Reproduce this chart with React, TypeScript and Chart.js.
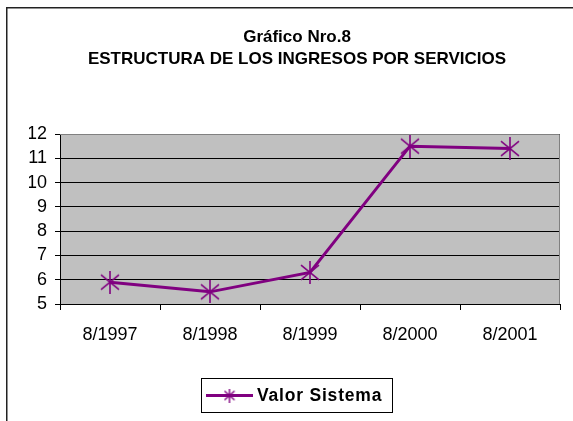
import React, { useEffect, useRef } from "react";
import { Chart, registerables } from "chart.js";

Chart.register(...registerables);

const categories = ["8/1997", "8/1998", "8/1999", "8/2000", "8/2001"];
const valorSistema = [5.9, 5.5, 6.3, 11.5, 11.4];
const titleLines = ["Gráfico Nro.8", "ESTRUCTURA DE LOS INGRESOS POR SERVICIOS"];
const seriesLabel = "Valor Sistema";
const yMin = 5;
const yMax = 12;

const PURPLE = "#800080";
const FONT = "'Liberation Sans', Arial, sans-serif";

function makeStar(w: number, h: number, lw: number): HTMLCanvasElement {
  const c = document.createElement("canvas");
  c.width = w;
  c.height = h;
  const ctx = c.getContext("2d")!;
  ctx.strokeStyle = PURPLE;
  ctx.lineWidth = lw;
  ctx.beginPath();
  ctx.moveTo(w / 2, 0);
  ctx.lineTo(w / 2, h);
  const dy = h * 0.18;
  ctx.moveTo(1, dy);
  ctx.lineTo(w - 1, h - dy);
  ctx.moveTo(w - 1, dy);
  ctx.lineTo(1, h - dy);
  ctx.stroke();
  return c;
}

export default function App() {
  const ref = useRef<HTMLCanvasElement>(null);
  useEffect(() => {
    document.body.style.margin = "0";
    const star = makeStar(20, 23, 1.6);
    const smallStar = makeStar(12, 14, 1.4);

    const framePlugin = {
      id: "frame",
      beforeDraw(chart: any) {
        const { ctx, chartArea: a } = chart;
        ctx.save();
        ctx.fillStyle = "#fff";
        ctx.fillRect(0, 0, chart.width, chart.height);
        ctx.strokeStyle = "#222";
        ctx.lineWidth = 1.5;
        ctx.strokeRect(6.75, 7.75, chart.width + 20, chart.height + 20);
        ctx.fillStyle = "#C0C0C0";
        ctx.fillRect(a.left, a.top, a.right - a.left, a.bottom - a.top);
        ctx.restore();
      },
      afterDatasetsDraw(chart: any) {
        const { ctx, chartArea: a } = chart;
        ctx.save();
        ctx.strokeStyle = "#808080";
        ctx.lineWidth = 1;
        ctx.beginPath();
        ctx.moveTo(a.left, a.top + 0.5);
        ctx.lineTo(a.right - 0.5, a.top + 0.5);
        ctx.lineTo(a.right - 0.5, a.bottom);
        ctx.stroke();
        ctx.restore();
      },
      afterDraw(chart: any) {
        const { ctx } = chart;
        const ds = chart.data.datasets[0];
        ctx.save();
        const bx = 201.5, by = 378.5, bw = 191, bh = 34;
        ctx.fillStyle = "#fff";
        ctx.fillRect(bx, by, bw, bh);
        ctx.strokeStyle = "#000";
        ctx.lineWidth = 1;
        ctx.strokeRect(bx, by, bw, bh);
        const cy = by + bh / 2;
        ctx.strokeStyle = ds.borderColor;
        ctx.lineWidth = 3;
        ctx.beginPath();
        ctx.moveTo(206, cy);
        ctx.lineTo(253, cy);
        ctx.stroke();
        ctx.drawImage(smallStar, 229.5 - smallStar.width / 2, cy - smallStar.height / 2);
        ctx.fillStyle = "#000";
        ctx.font = `bold 17.5px ${FONT}`;
        (ctx as any).letterSpacing = "0.8px";
        ctx.textBaseline = "middle";
        ctx.textAlign = "left";
        ctx.fillText(ds.label, 257, cy + 1);
        ctx.restore();
      },
    };

    const chart = new Chart(ref.current!, {
      type: "line",
      data: {
        labels: categories,
        datasets: [
          {
            label: seriesLabel,
            data: valorSistema,
            borderColor: PURPLE,
            backgroundColor: PURPLE,
            borderWidth: 3,
            pointStyle: star as any,
            pointRadius: 10,
            tension: 0,
          },
        ],
      },
      options: {
        animation: false,
        responsive: false,
        layout: { padding: { left: 29, right: 8, top: 0, bottom: 0 } },
        plugins: {
          legend: { display: false },
          tooltip: { enabled: false },
          title: {
            display: true,
            text: titleLines,
            color: "#000",
            font: { family: FONT, weight: "bold", size: 17, lineHeight: 22 / 17 },
            padding: { top: 26, bottom: 64 },
          },
        },
        scales: {
          x: {
            offset: true,
            afterFit: (s: any) => {
              s.height = 117;
            },
            grid: {
              display: true,
              offset: true,
              drawOnChartArea: false,
              drawTicks: true,
              tickLength: 6,
              color: "#000",
            },
            border: { color: "#000", width: 1 },
            ticks: {
              color: "#000",
              padding: 14,
              font: { family: FONT, size: 18 },
              maxRotation: 0,
              autoSkip: false,
            },
          },
          y: {
            min: yMin,
            max: yMax,
            afterFit: (s: any) => {
              s.width = 31;
            },
            grid: {
              color: "#000",
              lineWidth: 1,
              drawTicks: true,
              tickLength: 5,
            },
            border: { color: "#000", width: 1 },
            ticks: {
              stepSize: 1,
              autoSkip: false,
              color: "#000",
              padding: 8,
              font: { family: FONT, size: 18 },
            },
          },
        },
      },
      plugins: [framePlugin],
    });
    return () => chart.destroy();
  }, []);
  return (
    <div style={{ width: 573, height: 421 }}>
      <canvas ref={ref} width={573} height={421} style={{ display: "block" }} />
    </div>
  );
}
